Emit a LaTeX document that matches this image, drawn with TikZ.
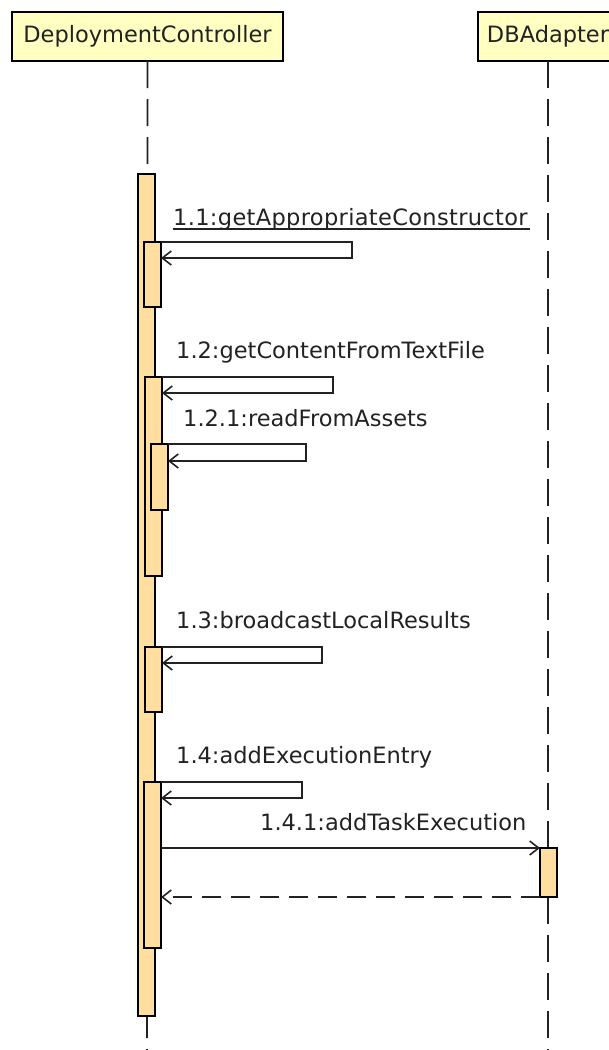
\documentclass[tikz,border=0pt]{standalone}
\usepackage{fontspec}
\setmainfont{DejaVu Sans}
\usetikzlibrary{arrows.meta}
\definecolor{headfill}{RGB}{255,255,194}
\definecolor{actfill}{RGB}{255,222,160}
\definecolor{ink}{RGB}{34,34,34}
\begin{document}
\begin{tikzpicture}[x=1pt,y=-1pt,
  every node/.style={font=\fontsize{22.5}{27}\selectfont, text=ink},
  head/.style={draw=black, line width=1.6pt, fill=headfill, minimum height=49pt,
               inner xsep=8pt, outer sep=0pt},
  bar/.style={draw=black, line width=1.4pt, fill=actfill, minimum width=17pt,
              inner sep=0pt, outer sep=0pt, anchor=north west},
  life/.style={draw=ink, line width=1.7pt, dash pattern=on 27pt off 11pt},
  msg/.style={draw=ink, line width=1.6pt,
              -{Straight Barb[length=9pt,width=14pt,line width=1.6pt]}},
  ret/.style={msg, dash pattern=on 19pt off 10pt},
  lbl/.style={anchor=base west, inner sep=0pt}]
\useasboundingbox (0,0) rectangle (609,1050);

% lifeline heads
\node[head, minimum width=271pt] (dc) at (147.5,36.5) {DeploymentController};
\node[head, minimum width=140pt] (db) at (548,36.5) {DBAdapter};

% lifelines
\coordinate (dcend) at (147,1050);
\coordinate (dbend) at (548,1050);
\draw[life] (dc.south) -- (dcend);
\draw[life] (db.south) -- (dbend);

% activation bars
\node[bar, minimum height=842pt] (a0)   at (138,174) {};
\node[bar, minimum height=65pt]  (a11)  at (144,242) {};
\node[bar, minimum height=199pt] (a12)  at (145,377) {};
\node[bar, minimum height=66pt]  (a121) at (151,444) {};
\node[bar, minimum height=65pt]  (a13)  at (145,647) {};
\node[bar, minimum height=166pt] (a14)  at (144,782) {};
\node[bar, minimum height=49pt]  (ad)   at (540,848) {};

% message labels
\node[lbl] (l11)  at (173,225) {\addfontfeature{LetterSpace=1.5}1.1:getAppropriateConstructor};
\coordinate (u11) at (530,229);
\draw[ink, line width=1.4pt] ([yshift=-4pt]l11.base west) -- (u11);
\node[lbl] (l12)  at (176,358) {1.2:getContentFromTextFile};
\node[lbl] (l121) at (183,426) {1.2.1:readFromAssets};
\node[lbl] (l13)  at (176,628) {1.3:broadcastLocalResults};
\node[lbl] (l14)  at (176,763) {1.4:addExecutionEntry};
\node[lbl] (l141) at (260,830) {1.4.1:addTaskExecution};

% self messages
\draw[msg] (a11.north east) -- (352,242) -- (352,258) -- (a11.east |- 0,258);
\draw[msg] (a12.north east) -- (333,377) -- (333,393) -- (a12.east |- 0,393);
\draw[msg] (a121.north east) -- (306,444) -- (306,461) -- (a121.east |- 0,461);
\draw[msg] (a13.north east) -- (322,647) -- (322,663) -- (a13.east |- 0,663);
\draw[msg] (a14.north east) -- (302,782) -- (302,798) -- (a14.east |- 0,798);

% call to DBAdapter and its return
\draw[msg] (a14.east |- 0,848) -- (ad.north west);
\draw[ret] (ad.south west) -- (a14.east |- 0,897);
\end{tikzpicture}
\end{document}
